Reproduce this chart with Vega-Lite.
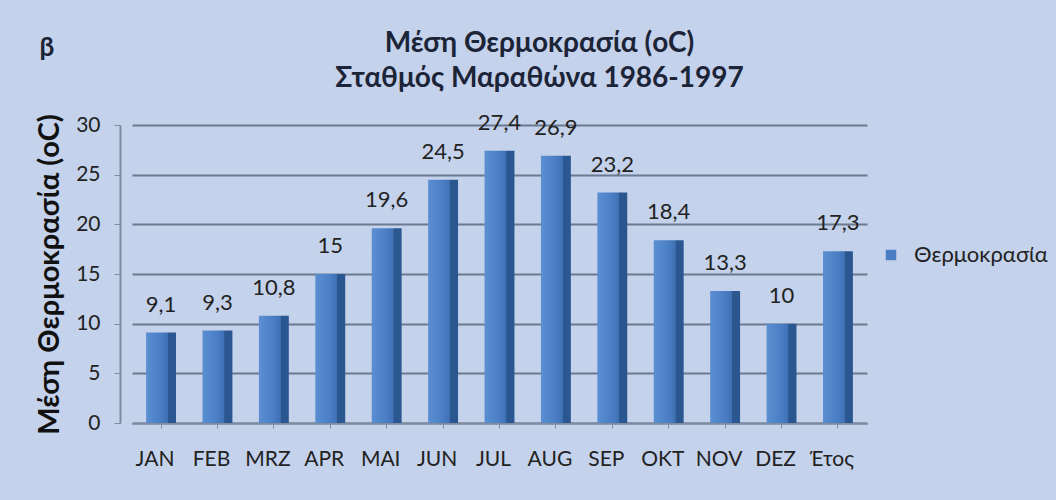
{
  "$schema": "https://vega.github.io/schema/vega-lite/v6.json",
  "width": 735,
  "height": 298,
  "autosize": {"type": "none"},
  "padding": {"left": 132, "top": 125, "right": 189, "bottom": 77},
  "background": "#c4d2eb",
  "config": {
    "locale": {"number": {"decimal": ",", "thousands": ".", "grouping": [3], "currency": ["", "€"]}},
    "view": {"stroke": null},
    "font": "Lato"
  },
  "title": {
    "text": ["Μέση Θερμοκρασία (oC)", "Σταθμός Μαραθώνα 1986-1997"],
    "fontSize": 28,
    "fontWeight": "bold",
    "color": "#1c2438",
    "anchor": "middle",
    "dx": 40,
    "offset": -59,
    "lineHeight": 35,
    "font": "Lato"
  },
  "data": {
    "values": [
      {"month": "JAN", "temp": 9.1, "series": "Θερμοκρασία"},
      {"month": "FEB", "temp": 9.3, "series": "Θερμοκρασία"},
      {"month": "MRZ", "temp": 10.8, "series": "Θερμοκρασία"},
      {"month": "APR", "temp": 15, "series": "Θερμοκρασία"},
      {"month": "MAI", "temp": 19.6, "series": "Θερμοκρασία"},
      {"month": "JUN", "temp": 24.5, "series": "Θερμοκρασία"},
      {"month": "JUL", "temp": 27.4, "series": "Θερμοκρασία"},
      {"month": "AUG", "temp": 26.9, "series": "Θερμοκρασία"},
      {"month": "SEP", "temp": 23.2, "series": "Θερμοκρασία"},
      {"month": "OKT", "temp": 18.4, "series": "Θερμοκρασία"},
      {"month": "NOV", "temp": 13.3, "series": "Θερμοκρασία"},
      {"month": "DEZ", "temp": 10, "series": "Θερμοκρασία"},
      {"month": "Έτος", "temp": 17.3, "series": "Θερμοκρασία"}
    ]
  },
  "layer": [
    {
      "mark": {
        "type": "bar",
        "color": {
          "gradient": "linear",
          "x1": 0, "y1": 0, "x2": 1, "y2": 0,
          "stops": [
            {"offset": 0, "color": "#5b8fd2"},
            {"offset": 0.5, "color": "#4a7ec4"},
            {"offset": 0.72, "color": "#3f70b3"},
            {"offset": 0.74, "color": "#2b5790"},
            {"offset": 1, "color": "#2b5790"}
          ]
        }
      },
      "encoding": {
        "x": {
          "field": "month", "type": "nominal", "sort": null,
          "scale": {"paddingInner": 0.47, "paddingOuter": 0.25},
          "axis": {
            "orient": "bottom",
            "title": null,
            "labelAngle": 0,
            "labelFontSize": 21,
            "labelColor": "#222222",
            "labelPadding": 20,
            "labelOffset": -6,
            "domainColor": "#7f8ba0",
            "domainWidth": 2,
            "tickColor": "#7f8ba0",
            "tickSize": 5
          }
        },
        "y": {
          "field": "temp", "type": "quantitative",
          "scale": {"domain": [0, 30], "nice": false},
          "axis": {
            "title": "Μέση Θερμοκρασία (oC)",
            "titleFontSize": 29,
            "titleFontWeight": "bold",
            "titleColor": "#111111",
            "titlePadding": 11,
            "values": [0, 5, 10, 15, 20, 25, 30],
            "labelFontSize": 21,
            "labelColor": "#222222",
            "labelPadding": 14,
            "offset": 12,
            "domainColor": "#7f8ba0",
            "domainWidth": 2,
            "tickColor": "#7f8ba0",
            "tickSize": 6,
            "gridColor": "#6b7a90",
            "gridWidth": 2
          }
        }
      }
    },
    {
      "mark": {"type": "point", "shape": "square", "filled": true, "opacity": 0},
      "encoding": {
        "x": {"field": "month", "type": "nominal", "sort": null, "axis": null},
        "y": {"field": "temp", "type": "quantitative"},
        "color": {
          "field": "series", "type": "nominal",
          "scale": {"range": ["#4a7ec4"]},
          "legend": {
            "title": null,
            "orient": "none",
            "legendX": 748,
            "legendY": 119,
            "symbolType": "square",
            "symbolSize": 110,
            "symbolOpacity": 1,
            "labelFontSize": 22,
            "labelColor": "#222222",
            "labelFont": "Lato",
            "labelOffset": 12
          }
        }
      }
    },
    {
      "mark": {"type": "text", "baseline": "bottom", "dy": -16, "fontSize": 22, "color": "#222222"},
      "encoding": {
        "x": {
          "field": "month", "type": "nominal", "sort": null,
          "axis": {
            "orient": "top",
            "title": "β",
            "titleFontSize": 26,
            "titleFontWeight": "bold",
            "titleColor": "#1c2438",
            "titleAnchor": "start",
            "titleAlign": "left",
            "titleBaseline": "middle",
            "titleX": -93,
            "titleY": -78,
            "labels": false,
            "ticks": false,
            "domain": false,
            "grid": false
          }
        },
        "y": {"field": "temp", "type": "quantitative"},
        "text": {"field": "temp", "type": "quantitative", "format": "~g"}
      }
    }
  ],
  "resolve": {"axis": {"x": "independent"}}
}
